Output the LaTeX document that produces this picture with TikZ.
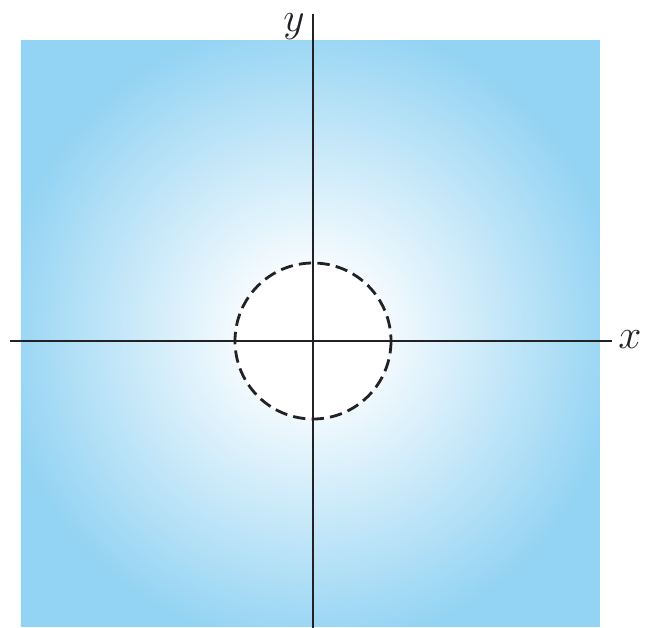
\documentclass[tikz,border=0pt]{standalone}
\definecolor{skyb}{RGB}{147,211,243}
\definecolor{axisc}{RGB}{34,34,38}
\pgfdeclareradialshading{fieldshade}{\pgfpoint{0bp}{0bp}}{%
  color(0bp)=(white);
  color(4bp)=(white);
  color(27bp)=(skyb);
  color(50bp)=(skyb)}
\tikzset{
  axisline/.style={draw=axisc, line width=1.3pt},
  holecircle/.style={draw=axisc, fill=white, line width=1.4pt, dash pattern=on 6.2pt off 3.1pt},
  axislabel/.style={font=\fontsize{21}{25}\selectfont, text=axisc, inner sep=0pt}
}
\begin{document}
\begin{tikzpicture}[x=0.5pt, y=-0.5pt]
\useasboundingbox (0,0) rectangle (645,628);
% field square
\shade[shading=fieldshade] (21,40) rectangle (600,626);
% coordinates
\coordinate (O) at (313,341);
\coordinate (xl) at (10,341);
\coordinate (xr) at (612,341);
\coordinate (yt) at (313,14);
\coordinate (yb) at (313,628);
% circle
\draw[holecircle] (O) circle[radius=78];
% axes
\draw[axisline] (xl) -- (xr);
\draw[axisline] (yb) -- (yt);
% labels
\node[axislabel] (xlab) at (630,340) {$x$};
\node[axislabel] (ylab) at (294,27) {$y$};
\end{tikzpicture}
\end{document}
